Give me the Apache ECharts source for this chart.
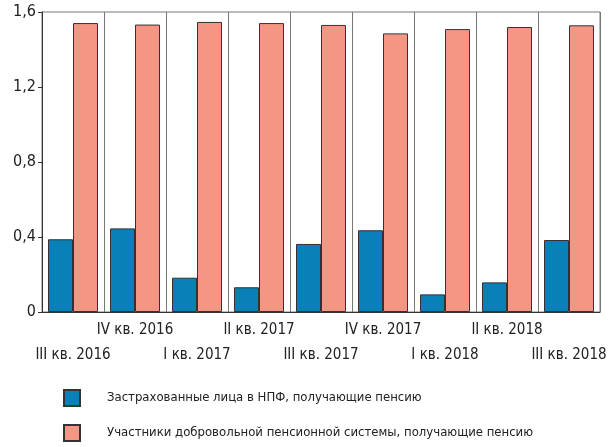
<!DOCTYPE html>
<html>
<head>
<meta charset="utf-8">
<script src="https://cdn.jsdelivr.net/npm/echarts@6/dist/echarts.min.js"></script>
<style>
  html, body { margin: 0; padding: 0; background: #fff; }
  #chart { width: 610px; height: 447px; }
</style>
</head>
<body>
<div id="chart"></div>
<script>
const quarters = ['III', 'IV', 'I', 'II', 'III', 'IV', 'I', 'II', 'III']
const years = ['2016', '2016', '2017', '2017', '2017', '2017', '2018', '2018', '2018']
const categories = quarters.map((q, i) => q + ' кв. ' + years[i])

const insured = [0.388, 0.446, 0.183, 0.132, 0.363, 0.436, 0.094, 0.158, 0.384]
const voluntary = [1.541, 1.533, 1.547, 1.541, 1.531, 1.486, 1.509, 1.520, 1.529]

const yTicks = ['0', '0,4', '0,8', '1,2', '1,6']

const seriesNames = [
  'Застрахованные лица в НПФ, получающие пенсию',
  'Участники добровольной пенсионной системы, получающие пенсию'
]

const font = "'DejaVu Sans Condensed', 'Liberation Sans Narrow', sans-serif"

const chart = echarts.init(document.getElementById('chart'))

chart.setOption({
  animation: false,
  textStyle: { fontFamily: font },
  grid: {
    left: 42,
    right: 10,
    top: 12,
    bottom: 135,
    show: true,
    borderColor: '#777',
    borderWidth: 1
  },
  legend: {
    orient: 'vertical',
    left: 63,
    top: 389,
    padding: 0,
    itemWidth: 16,
    itemHeight: 16,
    itemGap: 17,
    icon: 'rect',
    selectedMode: false,
    data: seriesNames,
    textStyle: {
      fontFamily: font,
      fontSize: 13,
      color: '#222',
      padding: [0, 0, 0, 22]
    }
  },
  xAxis: {
    type: 'category',
    data: categories,
    axisLine: { show: true, lineStyle: { color: '#333' } },
    axisTick: { show: false },
    splitLine: { show: true, interval: 0, lineStyle: { color: '#777', width: 1 } },
    axisLabel: {
      interval: 0,
      margin: 6,
      color: '#222',
      fontSize: 15,
      fontFamily: font,
      lineHeight: 25,
      formatter: (value, idx) => {
        const line = quarters[idx] + ' кв. ' + years[idx]
        return idx % 2 === 0 ? '\n' + line : line
      }
    }
  },
  yAxis: {
    type: 'value',
    min: 0,
    max: 1.6,
    interval: 0.4,
    axisLine: { show: true, lineStyle: { color: '#333' } },
    axisTick: { show: true, length: 4, lineStyle: { color: '#333' } },
    splitLine: { show: false },
    axisLabel: {
      color: '#222',
      fontSize: 16,
      fontFamily: font,
      margin: 6,
      formatter: (v) => yTicks[Math.round(v / 0.4)]
    }
  },
  series: [
    {
      name: seriesNames[0],
      type: 'bar',
      data: insured,
      barWidth: 25,
      barGap: '0%',
      itemStyle: { color: '#0a80b8', borderColor: '#333', borderWidth: 1 }
    },
    {
      name: seriesNames[1],
      type: 'bar',
      data: voluntary,
      barWidth: 25,
      itemStyle: { color: '#f59684', borderColor: '#333', borderWidth: 1 }
    }
  ]
})
</script>
</body>
</html>
